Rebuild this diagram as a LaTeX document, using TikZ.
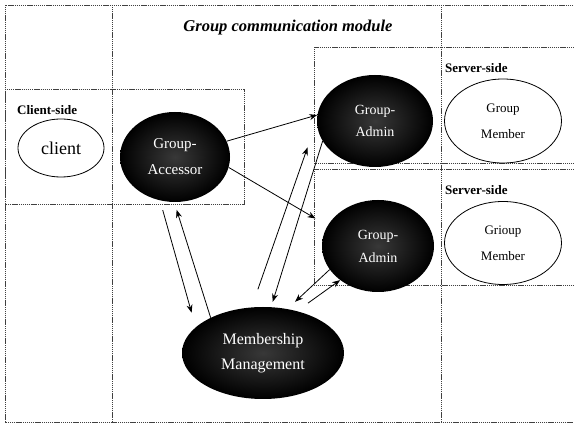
\documentclass[tikz,border=0pt]{standalone}
\usepackage{fontspec}
\setmainfont{Liberation Serif}
\usetikzlibrary{shapes.geometric,arrows.meta}
\begin{document}
\begin{tikzpicture}[x=1pt,y=-1pt,
  frameline/.style={draw=black!75, line width=0.7pt, dash pattern=on 1.2pt off 0.7pt},
  darkell/.style={ellipse, inner sep=0pt, shading=radial, inner color=black!78, outer color=black,
     text=white, align=center},
  lightell/.style={ellipse, draw=black, line width=0.8pt, fill=white, inner sep=0pt, align=center},
  conn/.style={line width=0.8pt, -{Stealth[length=8pt,width=6pt]}},
  sidelabel/.style={font=\bfseries\fontsize{13}{15}\selectfont, anchor=west, inner sep=0pt}
]
\useasboundingbox (0,0) rectangle (574,427);
\fill[white] (0,0) rectangle (574,427);
% frame and columns
\draw[frameline] (573,5) -- (5,5) -- (5,422) -- (573,422);
\draw[frameline] (112,5) -- (112,422);
\draw[frameline] (441,5) -- (441,422);
% boxes
\draw[frameline] (5,89) rectangle (244,204);
\draw[frameline] (574,47) -- (314,47) -- (314,163) -- (574,163);
\draw[frameline] (574,169) -- (314,169) -- (314,285) -- (574,285);
% labels
\node[font=\bfseries\itshape\fontsize{16.5}{18}\selectfont] (title) at (288,28) {Group communication module};
\node[sidelabel] (cs) at (17,110) {Client-side};
\node[sidelabel] (ss1) at (445,68) {Server-side};
\node[sidelabel] (ss2) at (445,190) {Server-side};
% nodes
\node[lightell, minimum width=86pt, minimum height=58pt, font=\fontsize{18}{20}\selectfont] (client) at (61,148) {client};
\node[darkell, minimum width=110pt, minimum height=90pt, font=\fontsize{15}{26}\selectfont] (ga) at (175,157) {Group-\\Accessor};
\node[darkell, minimum width=116pt, minimum height=92pt, font=\fontsize{14}{22}\selectfont] (adm1) at (375,121) {Group-\\Admin};
\node[darkell, minimum width=112pt, minimum height=92pt, font=\fontsize{14}{23}\selectfont] (adm2) at (378,246) {Group-\\Admin};
\node[darkell, minimum width=162pt, minimum height=92pt, font=\fontsize{16}{25}\selectfont] (mm) at (263,353) {Membership\\Management};
\node[lightell, minimum width=117pt, minimum height=84pt, font=\fontsize{13}{26}\selectfont] (gm1) at (503,121) {Group\\Member};
\node[lightell, minimum width=117pt, minimum height=83pt, font=\fontsize{13}{26}\selectfont] (gm2) at (503,243) {Grioup\\Member};
% connectors
\draw[conn] (ga.17) -- (adm1.174);
\draw[conn, shorten >=14pt] (ga.-11) -- (adm2.158);
\draw[conn, shorten <=10pt, shorten >=15pt] (ga.-109) -- (mm.159);
\draw[conn, shorten >=8pt] (mm.146) -- (ga.-91);
\draw[conn, shorten <=19pt, shorten >=28pt] (mm.104) -- (adm1.180);
\draw[conn, shorten >=5.5pt] (adm1.201.6) -- (mm.80);
\draw[conn, shorten >=10.5pt] (adm2.206.6) -- (mm.61);
\draw[conn, shorten <=13.5pt] (mm.51) -- (adm2.222);
\end{tikzpicture}
\end{document}
